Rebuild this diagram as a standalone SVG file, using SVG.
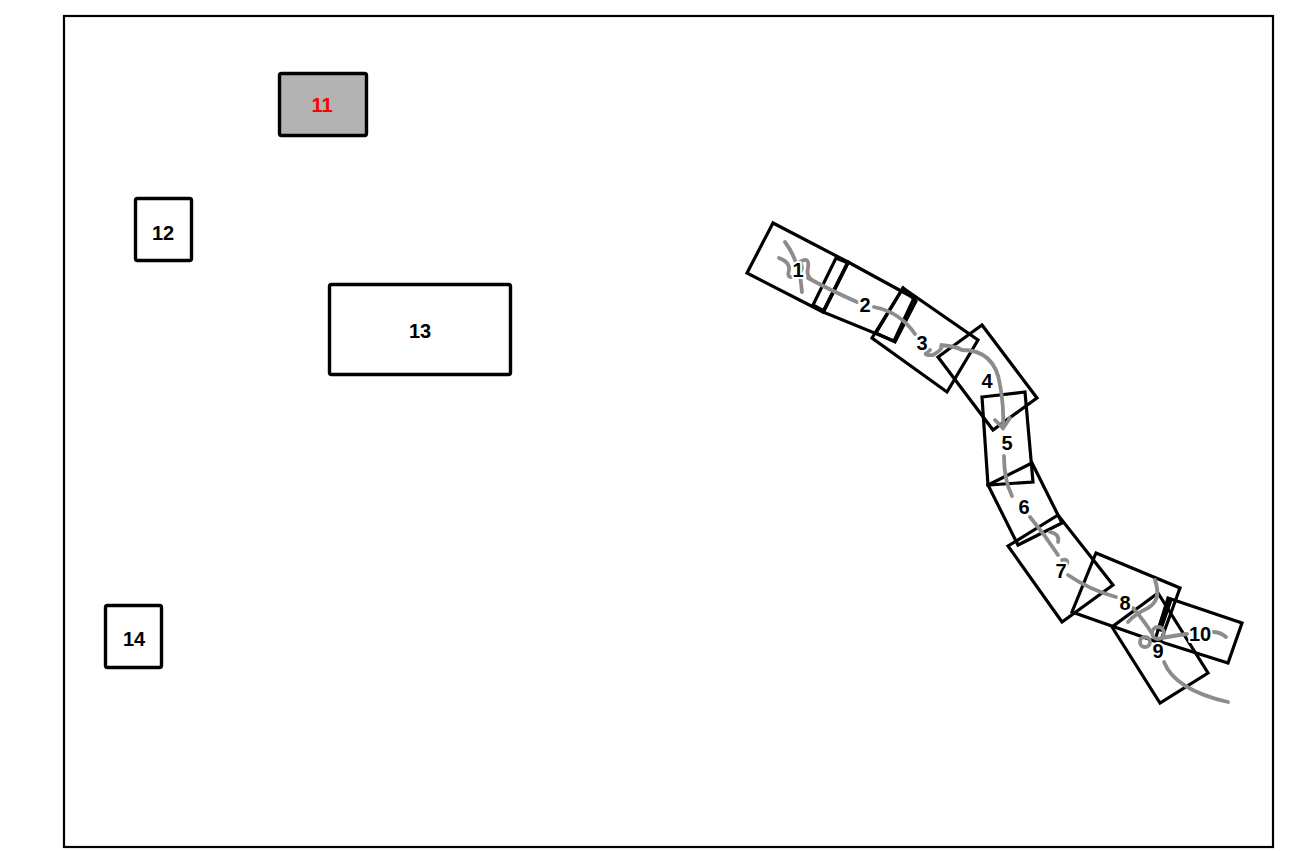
<svg xmlns="http://www.w3.org/2000/svg" width="1303" height="851" viewBox="0 0 1303 851">
<style>
.box{fill:#fff;stroke:#000;stroke-width:3.4;stroke-linejoin:round}
.rot{fill:none;stroke:#000;stroke-width:3.2;stroke-linejoin:miter}
.lbl{font-family:"Liberation Sans",Arial,sans-serif;font-weight:bold;font-size:20px;text-anchor:middle;fill:#000}
.rl{font-family:"Liberation Sans",Arial,sans-serif;font-weight:bold;font-size:20px;text-anchor:middle;fill:#000;stroke:#fff;stroke-width:4;paint-order:stroke;stroke-linejoin:round}
.g{fill:none;stroke:#8c8c8c;stroke-width:3.8;stroke-linecap:round}
</style>
<rect x="0" y="0" width="1303" height="851" fill="#fff"/>
<rect x="64" y="16" width="1209" height="831" fill="none" stroke="#000" stroke-width="2.2"/>
<g id="n11"><rect class="box" x="279.5" y="73.5" width="87" height="62" rx="2" style="fill:#b3b3b3"/><text class="lbl" x="322" y="112" style="fill:#f00">11</text></g>
<g id="n12"><rect class="box" x="135.5" y="198.5" width="56" height="62" rx="2"/><text class="lbl" x="163" y="240">12</text></g>
<g id="n13"><rect class="box" x="329.5" y="284.5" width="181" height="90" rx="2"/><text class="lbl" x="420" y="338">13</text></g>
<g id="n14"><rect class="box" x="105.5" y="605.5" width="56" height="62" rx="2"/><text class="lbl" x="134" y="646">14</text></g>
<g id="shapes">
<polygon id="r1" class="rot" points="773,223 848,262 823,312 747,273"/>
<polygon id="ra" class="rot" points="836,258 848,263 824,311 813,305"/>
<polygon id="r2" class="rot" points="848,262 914,298 894,341 823,312"/>
<polygon id="rb" class="rot" points="903,288 916,301 895,342 876,333"/>
<polygon id="r3" class="rot" points="903,288 978,340 947,392 872,338"/>
<polygon id="r4" class="rot" points="982,325 1037,398 993,430 938,357"/>
<polygon id="r5" class="rot" points="982,397 1025,392 1033,482 988,485"/>
<polygon id="r6" class="rot" points="988,485 1032,463 1062,523 1018,545"/>
<polygon id="r7" class="rot" points="1008,546 1058,515 1113,585 1062,622"/>
<polygon id="r8" class="rot" points="1096,553 1180,588 1160,643 1072,612"/>
<polygon id="r9" class="rot" points="1158,593 1208,673 1160,703 1112,627"/>
<polygon id="r10" class="rot" points="1168,598 1242,623 1228,663 1155,640"/>
<line x1="1170" y1="599" x2="1159" y2="631" stroke="#000" stroke-width="5.5"/>
</g>
<g id="connectors">
<path class="g" d="M785,242 Q800,262 802,292"/>
<path class="g" d="M779,258 Q790,262 789,270 Q786,280 796,276 Q805,270 800,262 Q810,256 808,268 Q806,276 812,280"/>
<path class="g" d="M808,278 Q830,290 857,302"/>
<path class="g" d="M874,307 Q900,312 915,334"/>
<path class="g" d="M930,350 Q920,356 933,355 Q945,348 940,345 Q955,346 962,350 Q995,350 1000,385 Q1004,405 1003,428"/>
<path class="g" d="M995,420 L1003,428 L1010,418"/>
<path class="g" d="M1004,456 Q1004,480 1012,496"/>
<path class="g" d="M1030,517 Q1045,535 1058,555"/>
<path class="g" d="M1050,532 Q1060,534 1058,542 M1062,560 Q1070,558 1066,566"/>
<path class="g" d="M1068,575 Q1090,590 1116,597"/>
<path class="g" d="M1133,608 Q1145,622 1151,632"/>
<path class="g" d="M1155,580 Q1162,600 1148,608 Q1135,614 1128,622"/>
<circle cx="1158" cy="633" r="6" class="g"/>
<circle cx="1145" cy="642" r="5" class="g"/>
<path class="g" d="M1162,638 Q1172,636 1187,634"/>
<path class="g" d="M1213,632 Q1220,632 1226,637"/>
<path class="g" d="M1164,662 Q1175,690 1228,702"/>
</g>
<g id="labels">
<text class="rl" x="798" y="277">1</text>
<text class="rl" x="865" y="312">2</text>
<text class="rl" x="922" y="350">3</text>
<text class="rl" x="987" y="388">4</text>
<text class="rl" x="1007" y="450">5</text>
<text class="rl" x="1024" y="514">6</text>
<text class="rl" x="1061" y="578">7</text>
<text class="rl" x="1125" y="610">8</text>
<text class="rl" x="1158" y="658">9</text>
<text class="rl" x="1200" y="641">10</text>
</g>
</svg>
